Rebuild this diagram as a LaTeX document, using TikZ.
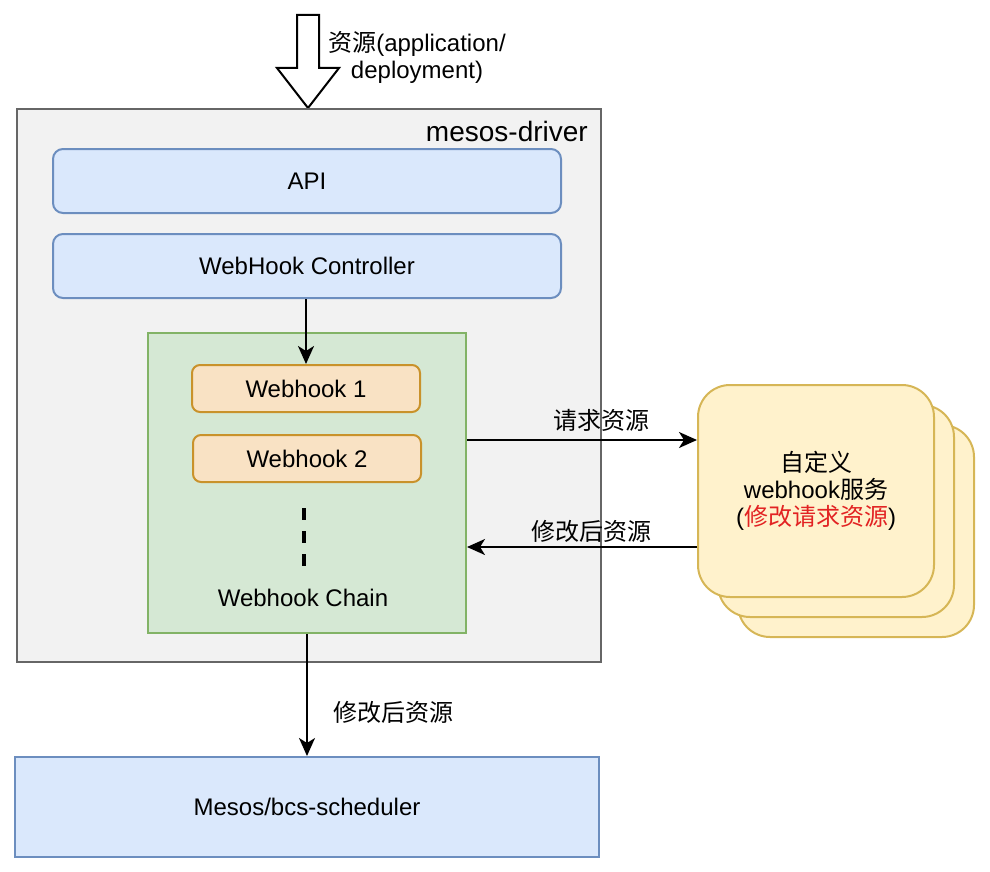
\documentclass[tikz,border=0pt]{standalone}
\usepackage{fontspec}
\setmainfont{Liberation Sans}
\newfontfamily\cjk{Noto Sans CJK SC}
\usepackage{tikz}
\usetikzlibrary{arrows.meta}

\definecolor{drvfill}{HTML}{F2F2F2}
\definecolor{drvline}{HTML}{666666}
\definecolor{bluefill}{HTML}{DAE8FC}
\definecolor{blueline}{HTML}{6C8EBF}
\definecolor{greenfill}{HTML}{D5E8D4}
\definecolor{greenline}{HTML}{82B366}
\definecolor{hookfill}{HTML}{F9E2C4}
\definecolor{hookline}{HTML}{C9922B}
\definecolor{svcfill}{HTML}{FFF2CC}
\definecolor{svcline}{HTML}{D6B656}
\definecolor{redtxt}{HTML}{E22222}

\tikzset{
	txt/.style={font=\fontsize{24pt}{27pt}\selectfont, inner sep=0pt},
	box/.style={txt, draw, line width=2pt, inner sep=0pt},
	bluebox/.style={box, fill=bluefill, draw=blueline},
	hookbox/.style={box, fill=hookfill, draw=hookline, rounded corners=8pt,
		minimum width=228pt, minimum height=47pt},
	svcbox/.style={box, fill=svcfill, draw=svcline, rounded corners=32pt,
		minimum width=236pt, minimum height=212pt, align=center},
	conn/.style={line width=2pt, -{Stealth[length=18pt,width=16pt,inset=5pt]}}
}

\begin{document}
\begin{tikzpicture}[x=1pt, y=-1pt]
	\useasboundingbox (0,0) rectangle (990,872);

	% input arrow
	\draw[line width=2pt, fill=white, line join=miter]
		(297,15) -- (319,15) -- (319,68) -- (339,68) -- (308,108)
		-- (277,68) -- (297,68) -- cycle;
	\node[txt, align=center] (srclbl) at (417,57) {{\cjk 资源}(application/\\deployment)};

	% mesos-driver
	\node[box, fill=drvfill, draw=drvline, minimum width=584pt, minimum height=553pt] (drv) at (309,385.5) {};
	\node[txt, font=\fontsize{28pt}{32pt}\selectfont, anchor=east] (drvlbl) at (588,131) {mesos-driver};

	\node[bluebox, rounded corners=10pt, minimum width=508pt, minimum height=64pt] (api) at (307,181) {API};
	\node[bluebox, rounded corners=10pt, minimum width=508pt, minimum height=64pt] (ctrl) at (307,266) {WebHook Controller};

	% webhook chain
	\node[box, fill=greenfill, draw=greenline, minimum width=318pt, minimum height=300pt] (chain) at (307,483) {};
	\node[hookbox] (hook1) at (306,388.5) {Webhook 1};
	\node[hookbox] (hook2) at (307,458.5) {Webhook 2};
	\coordinate (dtop) at (304,508);
	\coordinate (dbot) at (304,567);
	\draw[line width=4pt, dash pattern=on 12pt off 11pt] (dtop) -- (dbot);
	\node[txt] (chainlbl) at (303,598) {Webhook Chain};

	% custom webhook services
	\node[svcbox] (svc3) at (856,531) {};
	\node[svcbox] (svc2) at (836,511) {};
	\node[svcbox] (svc) at (816,491) {{\cjk 自定义}\\webhook{\cjk 服务}\\({\color{redtxt}\cjk 修改请求资源})};

	% scheduler
	\node[bluebox, minimum width=584pt, minimum height=100pt] (sched) at (307,807) {Mesos/bcs-scheduler};

	% connectors
	\draw[conn] (ctrl.south -| hook1.north) -- (hook1.north);
	\draw[conn] ([yshift=43pt]chain.east) -- ([yshift=43pt]chain.east -| svc.west)
		node[txt, midway, above=8pt, xshift=19pt]{\cjk 请求资源};
	\draw[conn] ([yshift=-64pt]chain.east -| svc.west) -- ([yshift=-64pt]chain.east)
		node[txt, midway, above=3pt, xshift=9pt]{\cjk 修改后资源};
	\draw[conn] (chain.south) -- (sched.north)
		node[txt, pos=0.645, right=25pt]{\cjk 修改后资源};

\end{tikzpicture}
\end{document}
